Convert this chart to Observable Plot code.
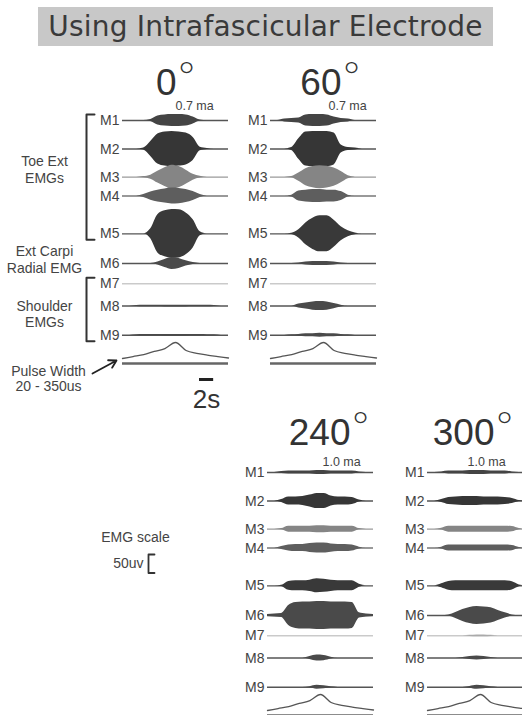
<!DOCTYPE html>
<html><head><meta charset="utf-8">
<script src="https://cdn.jsdelivr.net/npm/d3@7"></script>
<script src="https://cdn.jsdelivr.net/npm/@observablehq/plot@0.6"></script>
<style>
html,body{margin:0;padding:0;background:#fff;}
#root{position:relative;width:522px;height:715px;overflow:hidden;background:#fff;font-family:"Liberation Sans",Arial,sans-serif;}
#title{position:absolute;left:38px;top:7px;width:455px;height:39px;background:#c8c8c8;color:#3a3a3a;font-family:"DejaVu Sans",sans-serif;font-size:28px;line-height:39px;text-align:center;white-space:nowrap;letter-spacing:0.2px;}
.panel{position:absolute;}
.panel svg{max-width:none !important;display:block;}
</style></head>
<body><div id="root"><div id="title">Using Intrafascicular Electrode</div></div>
<script>
// ---------------- data ----------------
const time = [0,1,2,3,4,5,6,7,8,9,10,11,12,13,14,15];           // seconds
const channels = ["M1","M2","M3","M4","M5","M6","M7","M8","M9"];
const angles = ["0","60","240","300"];
const currents = ["0.7 ma","0.7 ma","1.0 ma","1.0 ma"];

// EMG envelope, peak-to-peak (uV), one row per channel M1..M9
const emg0deg = [
  [0,0,0,0,5,24,30,32,32,30,19,3,0,0,0,0],
  [0,0,0,5,40,81,92,95,92,86,62,10,3,0,0,0],
  [0,0,0,3,11,32,51,65,57,38,16,5,0,0,0,0],
  [0,0,0,8,22,32,38,43,41,35,24,8,0,0,0,0],
  [0,0,0,0,27,103,124,132,130,113,76,11,0,0,0,0],
  [0,0,0,0,0,8,22,32,27,14,5,0,0,0,0,0],
  [0,0,0,0,0,0,0,0,0,0,0,0,0,0,0,0],
  [0,0,3,4,4,4,5,5,5,5,4,4,4,3,0,0],
  [0,0,3,4,4,4,5,5,5,5,4,4,3,3,0,0]
];
const emg60deg = [
  [0,0,8,11,14,30,32,32,30,19,11,8,0,0,0,0],
  [0,0,0,8,55,92,95,95,95,86,22,8,5,0,0,0],
  [0,0,0,3,22,46,57,62,59,49,30,8,0,0,0,0],
  [0,0,0,5,27,32,35,35,32,32,24,5,0,0,0,0],
  [0,0,0,3,22,59,84,97,97,73,38,16,5,0,0,0],
  [0,0,0,0,3,8,11,11,11,8,3,0,0,0,0,0],
  [0,0,0,0,0,0,0,0,0,0,0,0,0,0,0,0],
  [0,0,0,0,11,16,22,24,22,14,5,0,0,0,0,0],
  [0,0,0,3,5,8,8,11,8,8,5,3,0,0,0,0]
];
const emg240deg = [
  [0,0,5,8,8,8,8,11,11,8,8,8,8,3,0,0],
  [0,0,8,22,22,24,32,41,41,27,22,22,19,5,0,0],
  [0,0,3,16,16,16,16,19,19,16,16,16,16,3,0,0],
  [0,0,8,16,19,19,24,27,27,22,19,19,16,5,0,0],
  [0,0,3,24,27,27,30,38,35,30,27,27,27,8,0,0],
  [5,8,11,54,70,73,73,76,76,73,73,73,70,14,8,5],
  [0,0,0,0,0,0,0,0,0,0,0,0,0,0,0,0],
  [0,0,0,0,0,0,8,16,14,5,0,0,0,0,0,0],
  [0,0,0,0,0,0,3,11,8,3,0,0,0,0,0,0]
];
const emg300deg = [
  [0,0,3,8,8,8,11,11,11,8,8,8,3,0,0,0],
  [0,0,8,19,22,24,24,24,22,22,22,19,14,3,0,0],
  [0,0,5,16,16,16,16,16,16,16,16,16,14,3,0,0],
  [0,0,5,16,16,16,16,16,16,16,16,16,14,3,0,0],
  [0,0,11,24,27,27,27,27,27,27,27,27,22,5,0,0],
  [0,0,0,3,16,32,43,49,46,41,27,14,3,0,0,0],
  [0,0,0,0,0,0,3,5,5,3,0,0,0,0,0,0],
  [0,0,0,0,0,3,8,11,8,3,0,0,0,0,0,0],
  [0,0,0,0,0,0,5,11,8,3,0,0,0,0,0,0]
];
const emgByPanel = [emg0deg, emg60deg, emg240deg, emg300deg];

// stimulation pulse width ramp (us)
const pwTime = [0,1.5,3,4.5,6,7.5,9,10.5,12,13.5,15];
const pwValues = [20,60,100,165,225,350,185,125,90,60,30];
const pwRangeLabel = "Pulse Width\n20 - 350us";

// muscle groups
const groupLabels = ["Toe Ext\nEMGs","Ext Carpi\nRadial EMG","Shoulder\nEMGs"];
const groupFrom = ["M1","M6","M7"];
const groupTo = ["M5","M6","M9"];
const groupBracket = [true,false,true];

// scale bars
const timeBarSeconds = 2, timeBarStart = 10.9, timeBarLabel = "2s";
const emgScaleUV = 50, emgScaleLabel = "50uv", emgScaleTitle = "EMG scale";

// ---------------- layout / style ----------------
const PX_PER_SEC = 106 / 15;
const PX_PER_UV = 1 / 2.7;
const rowUV = {M1:0,M2:77,M3:153,M4:204,M5:306,M6:386,M7:441,M8:501,M9:580};
const fillColor = {M1:"#444",M2:"#363636",M3:"#858585",M4:"#5e5e5e",M5:"#393939",M6:"#4a4a4a",M7:"#aaa",M8:"#4a4a4a",M9:"#4a4a4a"};
const lineColor = {M1:"#555",M2:"#555",M3:"#9a9a9a",M4:"#777",M5:"#555",M6:"#555",M7:"#b0b0b0",M8:"#555",M9:"#555"};
const panelLayout = [
  {x0:122, y0:120, ml:122, digitsRight:54, digitsUp:25, curLeft:53, curUp:10},
  {x0:270, y0:120, ml:34,  digitsRight:71, digitsUp:25, curLeft:58, curUp:10},
  {x0:267, y0:472, ml:34,  digitsRight:83, digitsUp:27, curLeft:55, curUp:6},
  {x0:427, y0:472, ml:34,  digitsRight:67, digitsUp:27, curLeft:40, curUp:6}
];
const FONT = "Liberation Sans, Arial, sans-serif";
const root = document.getElementById("root");
const tEnd = time[time.length - 1];
const traceW = tEnd * PX_PER_SEC;
const baseStyle = {background: "transparent", overflow: "visible", fontFamily: FONT, maxWidth: "none"};

function place(svg, left, top) {
  const d = document.createElement("div");
  d.className = "panel";
  d.style.left = left + "px";
  d.style.top = top + "px";
  d.appendChild(svg);
  root.appendChild(d);
}

function emgPlot(i) {
  const L = panelLayout[i];
  const MT = 60, MB = 14, MR = 6;
  const data = emgByPanel[i];
  const rows = [];
  channels.forEach((ch, c) => time.forEach((t, k) => rows.push({ch, t, amp: data[c][k]})));
  const marks = [
    Plot.ruleY(channels, {y: ch => rowUV[ch], x1: time[0], x2: tEnd,
      stroke: ch => lineColor[ch], strokeWidth: ch => ch === "M7" ? 1 : 1.4}),
    Plot.areaY(rows, {x: "t", y1: d => rowUV[d.ch] - d.amp / 2, y2: d => rowUV[d.ch] + d.amp / 2,
      z: "ch", fill: d => fillColor[d.ch], curve: "monotone-x"}),
    Plot.text(channels, {x: time[0], y: ch => rowUV[ch], text: d => d, textAnchor: "end", dx: -3,
      fontSize: 14, fill: "#444"}),
    Plot.text([angles[i]], {x: time[0], y: 0, text: d => d, dx: L.digitsRight, dy: -L.digitsUp,
      textAnchor: "end", lineAnchor: "bottom", fontSize: 37, fontFamily: "Liberation Sans Narrow, Liberation Sans", fill: "#333"}),
    Plot.text(["°"], {x: time[0], y: 0, text: d => d, dx: L.digitsRight + 2, dy: -(L.digitsUp + 5),
      textAnchor: "start", lineAnchor: "bottom", fontSize: 39, fontFamily: "Lato, Liberation Sans", fontWeight: 300, fill: "#333"}),
    Plot.text([currents[i]], {x: time[0], y: 0, text: d => d, dx: L.curLeft, dy: -L.curUp,
      textAnchor: "start", lineAnchor: "bottom", fontSize: 12.5, fill: "#444"})
  ];
  if (i === 0) {
    const groups = groupLabels.map((label, g) => ({label, from: groupFrom[g], to: groupTo[g], bracket: groupBracket[g]}));
    const dyByGroup = [-8, -4, 4];
    groups.forEach((g, k) => {
      marks.push(Plot.text([g], {x: time[0], y: d => (rowUV[d.from] + rowUV[d.to]) / 2, text: "label",
        dx: -78, dy: dyByGroup[k], textAnchor: "middle", lineAnchor: "middle", lineHeight: 1.18, fontSize: 14, fill: "#444"}));
      if (g.bracket) {
        const outer = -36 / PX_PER_SEC, inner = -28 / PX_PER_SEC, pad = 6 / PX_PER_UV;
        const top = rowUV[g.from] - pad, bot = rowUV[g.to] + pad;
        marks.push(Plot.line([[inner, top], [outer, top], [outer, bot], [inner, bot]],
          {x: d => d[0], y: d => d[1], stroke: "#333", strokeWidth: 2}));
      }
    });
  }
  return Plot.plot({
    width: L.ml + traceW + MR, height: MT + rowUV.M9 * PX_PER_UV + MB,
    marginLeft: L.ml, marginRight: MR, marginTop: MT, marginBottom: MB,
    x: {domain: [time[0], tEnd], range: [L.ml, L.ml + traceW], axis: null},
    y: {domain: [0, rowUV.M9], range: [MT, MT + rowUV.M9 * PX_PER_UV], axis: null},
    color: {type: "identity"},
    style: baseStyle,
    marks
  });
}

function pwPlot(i) {
  const L = panelLayout[i];
  const MT = 4, H = i === 0 ? 80 : 28, MR = 6;
  const pwMin = pwValues[0], pwMax = d3.max(pwValues);
  const pxPerUS = 16 / (pwMax - pwMin);
  const pts = pwTime.map((t, k) => ({t, pw: pwValues[k]}));
  const marks = [
    Plot.ruleY([pwMin], {x1: pwTime[0], x2: tEnd, dy: 5, stroke: "#666", strokeWidth: 2.6}),
    Plot.line(pts, {x: "t", y: "pw", stroke: "#555", strokeWidth: 1.3, curve: "monotone-x"})
  ];
  if (i === 0) {
    marks.push(Plot.text([pwRangeLabel], {x: time[0], y: pwMin, text: d => d, dx: -74, dy: 7,
      textAnchor: "middle", lineAnchor: "top", lineHeight: 1.07, fontSize: 14, fill: "#444"}));
    marks.push(Plot.arrow([0], {x1: -30 / PX_PER_SEC, y1: pwMin - 15 / pxPerUS,
      x2: -6 / PX_PER_SEC, y2: pwMin - 2 / pxPerUS, stroke: "#222", strokeWidth: 1.8, headLength: 7}));
    marks.push(Plot.ruleY([pwMin], {x1: timeBarStart, x2: timeBarStart + timeBarSeconds, dy: 21,
      stroke: "#222", strokeWidth: 3}));
    marks.push(Plot.text([timeBarLabel], {x: timeBarStart + timeBarSeconds / 2, y: pwMin, text: d => d,
      dy: 41, fontSize: 26, fill: "#333"}));
  }
  return Plot.plot({
    width: L.ml + traceW + MR, height: H,
    marginLeft: L.ml, marginRight: MR, marginTop: MT, marginBottom: 0,
    x: {domain: [time[0], tEnd], range: [L.ml, L.ml + traceW], axis: null},
    y: {domain: [pwMin, pwMax], range: [MT + 16, MT], axis: null},
    style: baseStyle,
    marks
  });
}

function emgScalePlot() {
  const ML = 60, MT = 30;
  const bracket = [[1, 0], [0, 0], [0, emgScaleUV], [1, emgScaleUV]];
  return Plot.plot({
    width: 80, height: 60, marginLeft: ML, marginTop: MT, marginRight: 0, marginBottom: 0,
    x: {domain: [0, 1], range: [ML, ML + 6], axis: null},
    y: {domain: [0, emgScaleUV], range: [MT, MT + emgScaleUV * PX_PER_UV], axis: null},
    style: baseStyle,
    marks: [
      Plot.line(bracket, {x: d => d[0], y: d => d[1], stroke: "#333", strokeWidth: 1.8}),
      Plot.text([emgScaleLabel], {x: 0, y: emgScaleUV / 2, text: d => d, dx: -5, textAnchor: "end", fontSize: 14, fill: "#444"}),
      Plot.text([emgScaleTitle], {x: 0, y: 0, text: d => d, dx: -13, dy: -17, textAnchor: "middle", fontSize: 14, fill: "#444"})
    ]
  });
}

panelLayout.forEach((L, i) => {
  place(emgPlot(i), L.x0 - L.ml, L.y0 - 60);
  place(pwPlot(i), L.x0 - L.ml, L.y0 + 218);
});
place(emgScalePlot(), 148 - 60, 554 - 30);
</script>
</body></html>
